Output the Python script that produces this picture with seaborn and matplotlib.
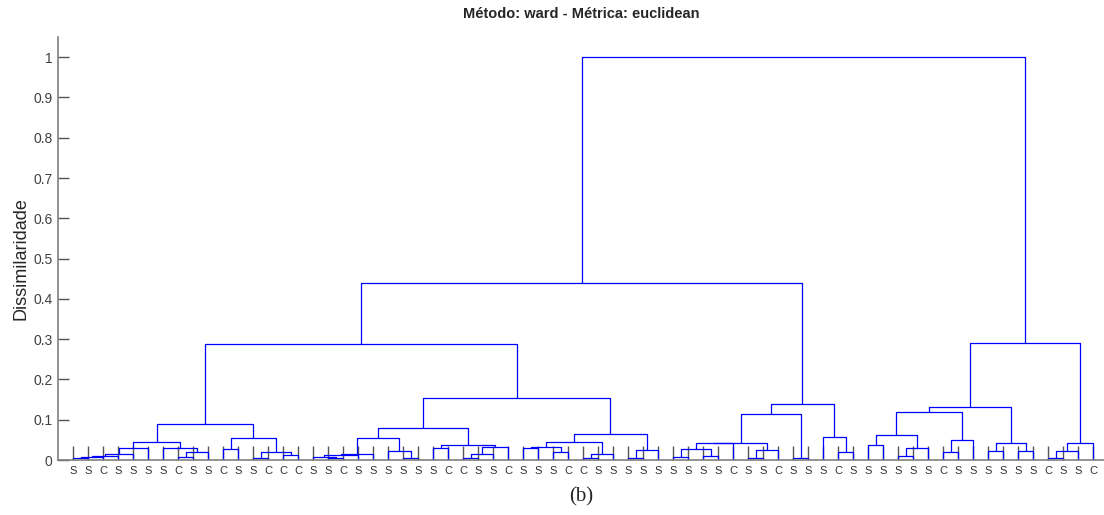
import matplotlib
matplotlib.use("Agg")
import matplotlib.pyplot as plt
import seaborn as sns
import pandas as pd

# rótulos das folhas (ordem da esquerda para a direita)
leaf_labels = ["S", "S", "C", "S", "S", "S", "S", "C", "S", "S", "C", "S", "S", "C", "C", "C",
               "S", "S", "C", "S", "S", "S", "S", "S", "S", "C", "C", "S", "S", "C", "S", "S", "S",
               "C", "C", "S", "S", "S", "S", "S", "S", "S", "S", "S", "C", "S", "S", "C", "S", "S",
               "S", "C", "S", "S", "S", "S", "S", "S", "C", "S", "S", "S", "S", "S", "S", "C", "S", "S", "C"]

# sub-arvores: [altura, esquerda, direita], folha = indice
cluster_a = [0.090,
             [0.045,
              [0.031, [0.014, [0.010, [0.007, [0.004, 0, 1], 2], 3], 4], 5],
              [0.031, 6, [0.019, [0.008, 7, 8], 9]]],
             [0.054, [0.027, 10, 11], [0.021, [0.006, 12, 13], [0.012, 14, 15]]]]

cluster_b = [0.153,
             [0.079,
              [0.055, [0.016, [0.012, [0.008, 16, [0.004, 17, 18]], 19], 20], [0.022, 21, [0.005, 22, 23]]],
              [0.037, [0.029, 24, 25], [0.033, [0.016, [0.006, 26, 27], 28], 29]]],
             [0.065,
              [0.045, [0.033, [0.029, 30, 31], [0.021, 32, 33]], [0.015, [0.006, 34, 35], 36]],
              [0.026, [0.006, 37, 38], 39]]]

cluster_c = [0.140,
             [0.113,
              [0.043, [0.041, [0.027, [0.008, 40, 41], [0.010, 42, 43]], 44], [0.026, [0.005, 45, 46], 47]],
              [0.004, 48, 49]],
             [0.056, 50, [0.020, 51, 52]]]

cluster_d = [0.290,
             [0.131,
              [0.118, [0.062, [0.037, 53, 54], [0.029, [0.009, 55, 56], 57]], [0.050, [0.019, 58, 59], 60]],
              [0.043, [0.023, 61, 62], [0.023, 63, 64]]],
             [0.043, [0.022, [0.006, 65, 66], 67], 68]]

top_heights = [0.288, 0.44, 1.0]
tree = [top_heights[2], [top_heights[1], [top_heights[0], cluster_a, cluster_b], cluster_c], cluster_d]

rows = []
def walk(node):
    # devolve (x, altura) do no e guarda os segmentos em forma de U
    if isinstance(node, int):
        return node, 0.0
    h, left, right = node
    xl, hl = walk(left)
    xr, hr = walk(right)
    k = len(rows)
    for px, py in [(xl, hl), (xl, h), (xr, h), (xr, hr)]:
        rows.append({"x": px, "y": py, "no": k})
    return (xl + xr) / 2, h

walk(tree)
df = pd.DataFrame(rows)

sns.set_theme(style="ticks")
plt.rcParams["font.family"] = ["Liberation Sans", "DejaVu Sans"]

fig = plt.figure(figsize=(11.04, 5.15), dpi=100)
ax = fig.add_axes([58 / 1104, 55 / 515, 1046 / 1104, 423 / 515])
sns.lineplot(data=df, x="x", y="y", units="no", estimator=None, sort=False,
             color="blue", linewidth=0.9, ax=ax, legend=False)

ax.set_xlim(-1, -1 + 1046 / 15)
ax.set_ylim(0, 1.05)
ax.set_xticks(range(len(leaf_labels)))
ax.set_xticklabels(leaf_labels, fontsize=8, color="#333333")
yt = [i / 10 for i in range(11)]
ax.set_yticks(yt)
ax.set_yticklabels(["0"] + [f"{v:.1f}" for v in yt[1:-1]] + ["1"], fontsize=10, color="#404040")
ax.tick_params(axis="x", direction="in", length=10, width=1, color="#555555", pad=4)
ax.tick_params(axis="y", direction="in", length=8, width=1, color="#555555", pad=4)
for s in ["left", "bottom"]:
    ax.spines[s].set_color("#808080")
    ax.spines[s].set_linewidth(1.2)
sns.despine(ax=ax)
ax.set_xlabel("")
ax.set_ylabel("Dissimilaridade", fontsize=13, color="#262626")
ax.yaxis.set_label_coords(-0.027, 0.477)
ax.set_title("Método: ward - Métrica: euclidean", fontsize=10.5, fontweight="bold", pad=14)

fig.text(581 / 1104, 1 - 497 / 515, "(b)", ha="center", va="center", fontsize=15,
         family=["Liberation Serif", "DejaVu Serif"])

fig.savefig("out.png", dpi=100)
